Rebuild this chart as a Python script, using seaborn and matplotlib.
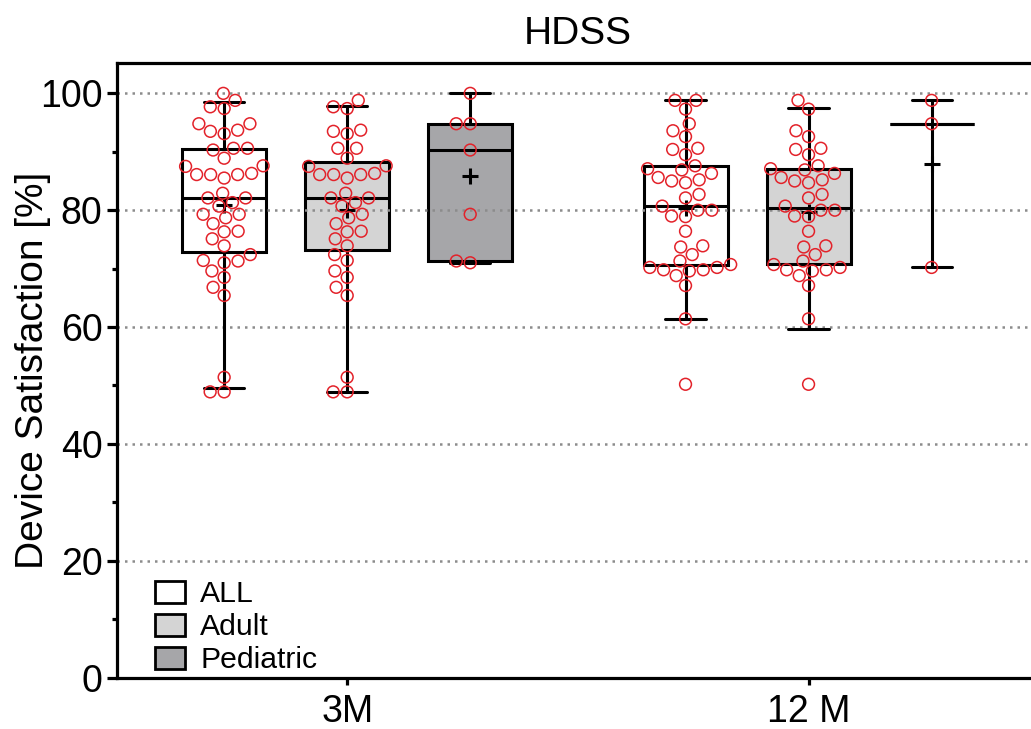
import numpy as np
import pandas as pd
import seaborn as sns
from matplotlib import pyplot as plt
from matplotlib.patches import Patch

# values (device satisfaction, %)
times = ['3M', '12 M']
groups = ['ALL', 'Adult', 'Pediatric']

adult_3m = [98.8, 97.4, 97.7, 93.1, 93.7, 93.5, 90.6, 90.6, 88.9, 87.6, 87.5, 86.3,
            86.1, 86.1, 86.1, 85.5, 82.9, 82.1, 82.1, 80.7, 81.3, 79.3, 78.7, 77.7,
            76.3, 76.4, 75.1, 73.9, 72.4, 71.4, 69.6, 68.5, 66.8, 65.4, 51.4, 48.9, 48.9]
ped_3m = [100.0, 94.8, 94.8, 90.3, 79.3, 71.0, 71.3]

adult_12m = [98.8, 97.3, 93.6, 92.6, 90.6, 90.4, 89.5, 87.1, 87.6, 86.3, 84.7, 85.0,
             85.2, 85.6, 86.9, 82.1, 82.7, 80.7, 80.0, 80.0, 79.0, 78.9, 76.4, 73.7,
             73.9, 72.4, 71.3, 69.8, 69.6, 70.7, 70.2, 69.8, 68.8, 67.1, 61.4, 50.2]
ped_12m = [98.8, 94.8, 70.2]

box_colors = ['white', '#d4d4d4', '#a6a6a9']
point_color = '#e3222a'

sns.set_style('ticks')
plt.rcParams['font.family'] = ['Liberation Sans', 'DejaVu Sans']
plt.rcParams['axes.edgecolor'] = 'black'
plt.rcParams['text.color'] = 'black'
plt.rcParams['axes.labelcolor'] = 'black'
plt.rcParams['xtick.color'] = 'black'
plt.rcParams['ytick.color'] = 'black'

values = {
    ('3M', 'ALL'): adult_3m + ped_3m,
    ('3M', 'Adult'): adult_3m,
    ('3M', 'Pediatric'): ped_3m,
    ('12 M', 'ALL'): adult_12m + ped_12m,
    ('12 M', 'Adult'): adult_12m,
    ('12 M', 'Pediatric'): ped_12m,
}
rows = []
for (t, g), vals in values.items():
    for v in vals:
        rows.append((t, g, v))
df = pd.DataFrame(rows, columns=['time', 'group', 'value'])


def prism_stats(vals):
    # quartiles like Prism ((n+1)p), whiskers 5-95 percentile, no box for n < 4
    v = np.asarray(vals)
    q1, med, q3 = np.percentile(v, [25, 50, 75], method='weibull')
    lo, hi = np.percentile(v, [5, 95], method='weibull')
    if len(v) < 4:
        q1 = q3 = med
    return dict(med=med, q1=q1, q3=q3, whislo=lo, whishi=hi, mean=v.mean(), fliers=[])


fig = plt.figure(figsize=(10.31, 7.29), dpi=100)
ax = fig.add_axes([0.113, 0.0706, 0.895, 0.843])

offsets = np.linspace(-0.8 / 3, 0.8 / 3, 3)
for gi, g in enumerate(groups):
    stats = [prism_stats(values[(t, g)]) for t in times]
    pos = [ti + offsets[gi] for ti in range(len(times))]
    ax.bxp(stats, positions=pos, widths=0.182, patch_artist=True, showmeans=True,
           showfliers=False, zorder=2.6, capwidths=0.087,
           boxprops=dict(facecolor=box_colors[gi], edgecolor='black', linewidth=2.2, zorder=2),
           whiskerprops=dict(color='black', linewidth=2.2),
           capprops=dict(color='black', linewidth=2.2),
           medianprops=dict(color='black', linewidth=2.2),
           meanprops=dict(marker='+', markersize=12, markeredgewidth=2.2,
                          markeredgecolor='black'))

sns.swarmplot(data=df, x='time', y='value', hue='group', order=times, hue_order=groups,
              dodge=True, size=8.5, linewidth=1.1, edgecolor=point_color, legend=False, ax=ax)
for coll in ax.collections:
    coll.set_facecolor('none')

ax.set_xlim(-0.5, 1.5)
ax.set_ylim(0, 105.2)
ax.set_xticks(range(len(times)))
ax.set_xticklabels(times)
ax.set_yticks(range(0, 101, 20))
ax.set_yticks(range(10, 100, 20), minor=True)

ax.set_axisbelow(False)
ax.yaxis.grid(True, which='major', linestyle=(0, (1, 2)), color='#8c8c8c', linewidth=1.8)
ax.xaxis.grid(False)

for s in ['left', 'bottom', 'top']:
    ax.spines[s].set_linewidth(2.3)
    ax.spines[s].set_zorder(3.5)
ax.spines['right'].set_visible(False)

ax.tick_params(axis='both', which='major', labelsize=27, width=2.3, length=7, pad=3)
ax.tick_params(axis='y', which='minor', width=2.3, length=3.5)
ax.tick_params(axis='x', length=5, pad=7)

ax.set_title('HDSS', fontsize=28, pad=14)
ax.set_ylabel('Device Satisfaction [%]', fontsize=28, labelpad=-8)
ax.set_xlabel('')

handles = [Patch(facecolor=c, edgecolor='black', linewidth=2, label=g)
           for g, c in zip(groups, box_colors)]
ax.legend(handles=handles, loc='lower left', bbox_to_anchor=(0.0415, 0.005), frameon=False,
          fontsize=21.7, handlelength=1.0, handleheight=0.75, handletextpad=0.5,
          labelspacing=0.17, borderaxespad=0, borderpad=0)

fig.savefig('out.png', dpi=100)
